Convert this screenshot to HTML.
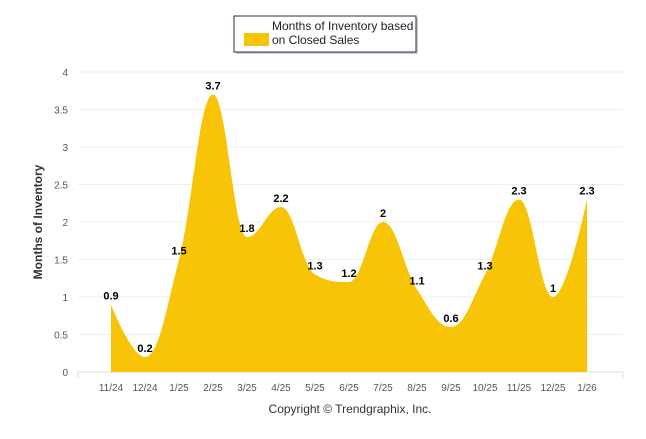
<!DOCTYPE html>
<html><head><meta charset="utf-8"><style>
body{margin:0;background:#fff;}
svg text{font-family:"Liberation Sans",Arial,sans-serif;}
</style></head><body>
<svg width="646" height="434" viewBox="0 0 646 434">
<rect x="236" y="18" width="182" height="36" fill="#999" opacity="0.5"/>
<rect x="234" y="16" width="182" height="36" fill="#fff" stroke="#1f2d4d" stroke-width="1"/>
<rect x="244" y="33" width="25" height="13" fill="#f7c408"/>
<text x="272" y="30" font-size="12" fill="#222">Months of Inventory based</text>
<text x="272" y="44" font-size="12" fill="#222">on Closed Sales</text>
<g id="grid"></g>
<path id="area" fill="#f7c408"/>
<g id="labels"></g>
<text transform="translate(42,222) rotate(-90)" text-anchor="middle" font-size="12" font-weight="bold" fill="#333">Months of Inventory</text>
<text x="350" y="413" text-anchor="middle" font-size="12" fill="#333">Copyright © Trendgraphix, Inc.</text>
</svg>
<script>
const categories=["11/24","12/24","1/25","2/25","3/25","4/25","5/25","6/25","7/25","8/25","9/25","10/25","11/25","12/25","1/26"];
const values=[0.9,0.2,1.5,3.7,1.8,2.2,1.3,1.2,2,1.1,0.6,1.3,2.3,1,2.3];
const yTicks=[0,0.5,1,1.5,2,2.5,3,3.5,4];
const NS="http://www.w3.org/2000/svg";
const x0=111,dx=34,yZero=372,yPer=75,left=78,right=623;
const X=i=>x0+i*dx, Y=v=>yZero-v*yPer;
const grid=document.getElementById('grid');
function mk(tag,attrs,parent){const e=document.createElementNS(NS,tag);for(const k in attrs)e.setAttribute(k,attrs[k]);parent.appendChild(e);return e;}
yTicks.forEach(t=>{
 const l=mk('line',{x1:left,x2:right,y1:Y(t),y2:Y(t),stroke:t===0?'#ddd':'#eee','stroke-width':1},grid);
 
 
 const tx=mk('text',{x:68,y:Y(t)+4,'text-anchor':'end','font-size':10,fill:'#555'},grid);
 tx.textContent=String(t);
 
 
});
[left,right].forEach(x=>{mk('line',{x1:x,x2:x,y1:yZero,y2:yZero+6,stroke:'#ddd'},grid);});
categories.forEach((c,i)=>{
 const tx=mk('text',{x:X(i),y:391,'text-anchor':'middle','font-size':10,fill:'#555'},grid);
 tx.textContent=c;
 
 
});
const pts=values.map((v,i)=>({x:X(i),y:Y(v)}));
const sm=1.5,den=2.5;
pts.forEach((p,i)=>{
 const lp=pts[i-1],np=pts[i+1];
 if(!lp||!np){p.lx=p.x;p.ly=p.y;p.rx=p.x;p.ry=p.y;return;}
 let lx=(sm*p.x+lp.x)/den,ly=(sm*p.y+lp.y)/den,rx=(sm*p.x+np.x)/den,ry=(sm*p.y+np.y)/den;
 const corr=((ry-ly)*(rx-p.x))/(rx-lx)+p.y-ry;ly+=corr;ry+=corr;
 if(ly>lp.y&&ly>p.y){ly=Math.max(lp.y,p.y);ry=2*p.y-ly;}else if(ly<lp.y&&ly<p.y){ly=Math.min(lp.y,p.y);ry=2*p.y-ly;}
 if(ry>np.y&&ry>p.y){ry=Math.max(np.y,p.y);ly=2*p.y-ry;}else if(ry<np.y&&ry<p.y){ry=Math.min(np.y,p.y);ly=2*p.y-ry;}
 p.lx=lx;p.ly=ly;p.rx=rx;p.ry=ry;
});
let d=`M${pts[0].x},${yZero} L${pts[0].x},${pts[0].y}`;
for(let i=1;i<pts.length;i++){const a=pts[i-1],b=pts[i];d+=` C${a.rx},${a.ry} ${b.lx},${b.ly} ${b.x},${b.y}`;}
d+=` L${pts[pts.length-1].x},${yZero} Z`;
document.getElementById('area').setAttribute('d',d);
const lg=document.getElementById('labels');
values.forEach((v,i)=>{
 const tx=mk('text',{x:X(i),y:Y(v)-5,'text-anchor':'middle','font-size':11,'font-weight':'bold',fill:'#000'},lg);
 tx.textContent=String(v);
 
 
});
</script>
</body></html>
